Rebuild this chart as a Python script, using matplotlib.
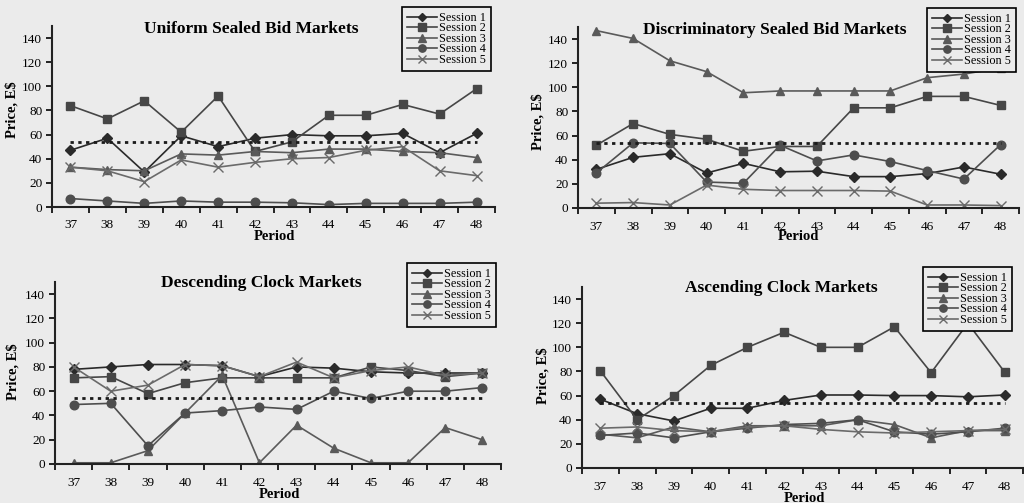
import numpy as np
import matplotlib
matplotlib.use('Agg')
import matplotlib.pyplot as plt

periods = list(range(37, 49))
equilibrium = 54

session_labels = ['Session 1', 'Session 2', 'Session 3', 'Session 4', 'Session 5']

uniform_s1 = [47, 57, 29, 59, 50, 57, 60, 59, 59, 61, 45, 61]
uniform_s2 = [84, 73, 88, 62, 92, 46, 54, 76, 76, 85, 77, 98]
uniform_s3 = [33, 31, 30, 44, 43, 46, 45, 48, 48, 46, 45, 41]
uniform_s4 = [7, 5, 3, 5, 4, 4, 3.5, 2, 3, 3, 3, 4]
uniform_s5 = [33, 30, 21, 39, 33, 37, 40, 41, 47, 50, 30, 26]

discrim_s1 = [32, 42, 45, 29, 37, 30, 30.5, 26, 26, 28.5, 34, 28]
discrim_s2 = [52, 70, 61, 57, 47, 51, 51, 83, 83, 92.5, 92.5, 85]
discrim_s3 = [147, 140.5, 122, 113, 95.5, 97, 97, 97, 97, 108, 111, 116]
discrim_s4 = [29, 54, 53.5, 21.5, 20.5, 52, 39, 44, 38.5, 31, 24, 52.5]
discrim_s5 = [4, 4.5, 2.5, 19, 15.5, 14.5, 14.5, 14.5, 14, 2.5, 2.5, 2]

desc_s1 = [78, 80, 82, 82, 81, 72, 80, 79, 76, 75, 75, 75]
desc_s2 = [71, 72, 58, 67, 71, 71, 71, 71, 80, 77, 72, 75]
desc_s3 = [1, 1, 11, 42, 73, 1, 32, 13, 1, 1, 30, 20]
desc_s4 = [49, 50, 15, 42, 44, 47, 45, 60, 54, 60, 60, 63]
desc_s5 = [80, 60, 65, 82, 81, 72, 84, 71, 77, 80, 73, 75]

asc_s1 = [57, 45, 39, 49.5, 49.5, 56, 60.5, 60.5, 60, 60, 59, 60.5]
asc_s2 = [80.5, 40, 60, 85, 100, 112.5, 100, 100, 117, 79, 120, 79.5]
asc_s3 = [28, 25, 34, 30, 35, 35, 35, 40, 36, 25, 31, 31]
asc_s4 = [27, 29, 25, 30, 33, 36, 37, 40, 30, 28, 30, 33]
asc_s5 = [33, 34, 31, 30, 34, 35, 32, 30, 29, 30, 31, 32]

# px layout measured on the 1024x503 reference
W, H = 1024.0, 503.0
panels = [
    dict(title='Uniform Sealed Bid Markets',
         series=[uniform_s1, uniform_s2, uniform_s3, uniform_s4, uniform_s5],
         box=(52, 26, 495, 207), title_xy=(251, 29), ylab_xy=(12, 110),
         per_xy=(274, 237), leg_xy=(402, 7)),
    dict(title='Discriminatory Sealed Bid Markets',
         series=[discrim_s1, discrim_s2, discrim_s3, discrim_s4, discrim_s5],
         box=(578, 27, 1019, 208), title_xy=(775, 30), ylab_xy=(538, 122),
         per_xy=(798, 237), leg_xy=(927, 8)),
    dict(title='Descending Clock Markets',
         series=[desc_s1, desc_s2, desc_s3, desc_s4, desc_s5],
         box=(55, 282, 501, 464), title_xy=(261, 283), ylab_xy=(13, 372),
         per_xy=(279, 495), leg_xy=(407, 263)),
    dict(title='Ascending Clock Markets',
         series=[asc_s1, asc_s2, asc_s3, asc_s4, asc_s5],
         box=(582, 287, 1023, 468), title_xy=(781, 288), ylab_xy=(543, 376),
         per_xy=(804, 498), leg_xy=(923, 267)),
]

markers = ['D', 's', '^', 'o', 'x']
msizes = [4.8, 6.2, 6.2, 6.2, 6.5]
colors = ['#2a2a2a', '#464646', '#5a5a5a', '#4e4e4e', '#6a6a6a']

bg = '#ebebeb'
plt.rcParams['font.family'] = 'Liberation Serif'

fig = plt.figure(figsize=(10.24, 5.03), dpi=100, facecolor=bg)

for p in panels:
    x0, y0, x1, y1 = p['box']
    ax = fig.add_axes([x0 / W, 1 - y1 / H, (x1 - x0) / W, (y1 - y0) / H])
    ax.set_facecolor(bg)

    for i, vals in enumerate(p['series']):
        ax.plot(periods, vals, color=colors[i], linewidth=1.2,
                marker=markers[i], markersize=msizes[i],
                markerfacecolor=colors[i], markeredgecolor=colors[i],
                markeredgewidth=1.0, label=session_labels[i])

    ax.plot([periods[0], periods[-1]], [equilibrium, equilibrium],
            color='#1a1a1a', linestyle=(0, (1.2, 1.6)), linewidth=2.0)

    ax.set_xlim(36.5, 48.5)
    ax.set_ylim(0, 150)
    ax.set_xticks(periods)
    ax.set_xticks(np.arange(36.5, 49, 1.0), minor=True)
    ax.set_yticks(range(0, 141, 20))
    ax.tick_params(axis='x', which='major', length=0, pad=9, labelsize=9.5)
    ax.tick_params(axis='x', which='minor', length=4, width=1.2, direction='out')
    ax.tick_params(axis='y', length=4, width=1.2, pad=3, labelsize=9.5)
    for side in ['top', 'right']:
        ax.spines[side].set_visible(False)
    for side in ['left', 'bottom']:
        ax.spines[side].set_linewidth(1.5)
        ax.spines[side].set_color('#222222')

    leg = ax.legend(loc='upper left',
                    bbox_to_anchor=(p['leg_xy'][0] / W, 1 - p['leg_xy'][1] / H),
                    bbox_transform=fig.transFigure, borderaxespad=0,
                    fontsize=8.8, labelspacing=-0.12, handlelength=2.5,
                    handletextpad=0.15, borderpad=0.4, markerscale=0.85,
                    fancybox=False, edgecolor='black', facecolor=bg,
                    framealpha=1)
    leg.get_frame().set_linewidth(1.2)

    fig.text(p['title_xy'][0] / W, 1 - p['title_xy'][1] / H, p['title'],
             ha='center', va='center', fontsize=12.5, fontweight='bold')
    fig.text(p['ylab_xy'][0] / W, 1 - p['ylab_xy'][1] / H, 'Price, E$',
             ha='center', va='center', rotation=90, fontsize=10.5,
             fontweight='bold')
    fig.text(p['per_xy'][0] / W, 1 - p['per_xy'][1] / H, 'Period',
             ha='center', va='center', fontsize=10.5, fontweight='bold')

plt.savefig('out.png', dpi=100, facecolor=bg)
